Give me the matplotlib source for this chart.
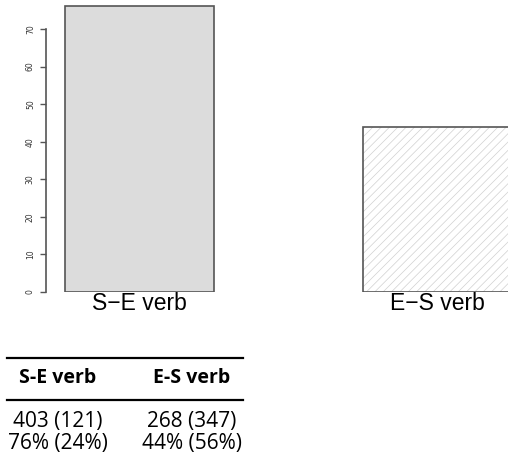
import matplotlib
matplotlib.use("Agg")
import matplotlib.pyplot as plt
from matplotlib.lines import Line2D

# verb order and share of responses (%)
categories = ["S\u2212E verb", "E\u2212S verb"]
percent = [76, 44]
percent_other = [24, 56]
counts = [403, 268]
counts_other = [121, 347]
table_headers = ["S-E verb", "E-S verb"]
yticks = [0, 10, 20, 30, 40, 50, 60, 70]

plt.rcParams["hatch.linewidth"] = 0.5

W, H = 508, 471
fig = plt.figure(figsize=(W / 100, H / 100), dpi=100)

# barplot area (pixel box converted to figure fractions)
ax = fig.add_axes([46 / W, (H - 292) / H, (W - 46) / W, 292 / H])
xpos = [1.5, 3.5]
ax.bar(xpos[0], percent[0], width=1, color="#dcdcdc", edgecolor="#555555", linewidth=1.2)
ax.bar(xpos[1], percent[1], width=1, color="white", edgecolor="#d0d0d0", hatch="////", linewidth=0)
ax.bar(xpos[1], percent[1], width=1, color="none", edgecolor="#555555", linewidth=1.2)
ax.set_xlim(130 / 149, 592 / 149)
ax.set_ylim(0, 77.7)

for side in ["top", "right", "bottom"]:
    ax.spines[side].set_visible(False)
ax.spines["left"].set_bounds(0, 70)
ax.spines["left"].set_color("#555555")
ax.spines["left"].set_linewidth(1.2)

ax.set_yticks(yticks)
ax.set_yticklabels([str(t) for t in yticks], rotation=90, va="center", fontsize=5.5, color="#333333")
ax.tick_params(axis="y", length=4, width=1, color="#555555", pad=4)
ax.set_xticks(xpos)
ax.set_xticklabels(categories, fontsize=16.5, family="Liberation Sans")
ax.tick_params(axis="x", length=0, pad=0)

# summary table underneath
tfont = dict(family="Open Sans", ha="center", va="center")
colx = [58 / W, 192 / W]
for y in [358, 400]:
    fig.add_artist(Line2D([7 / W, 243 / W], [1 - y / H, 1 - y / H], color="black", lw=1.6))
for i in range(2):
    fig.text(colx[i], 1 - 378 / H, table_headers[i], fontweight="bold", fontsize=14, **tfont)
    fig.text(colx[i], 1 - 422 / H, f"{counts[i]} ({counts_other[i]})", fontsize=15, **tfont)
    fig.text(colx[i], 1 - 443 / H, f"{percent[i]}% ({percent_other[i]}%)", fontsize=15, **tfont)

fig.savefig("out.png", dpi=100)
